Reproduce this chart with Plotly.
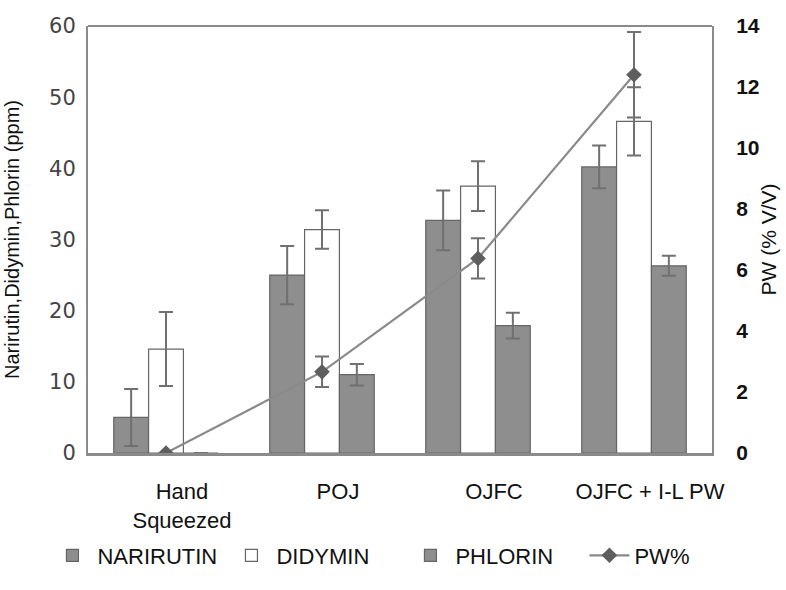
import plotly.graph_objects as go

# Juice samples
categories = ["Hand<br>Squeezed", "POJ", "OJFC", "OJFC + I-L PW"]

# Flavanone glycosides (ppm) with standard deviations
narirutin = [5.0, 25.0, 32.7, 40.2]
narirutin_sd = [4.0, 4.1, 4.2, 3.0]
didymin = [14.6, 31.4, 37.5, 46.6]
didymin_sd = [5.2, 2.7, 3.5, 4.8]
phlorin = [0.0, 11.0, 17.9, 26.3]
phlorin_sd = [0.0, 1.5, 1.8, 1.4]

# Pulp wash content (% V/V)
pw = [0.0, 2.66, 6.38, 12.4]
pw_sd = [0.0, 0.5, 0.66, 1.4]

bar_grey = "#8e8e8e"
edge_grey = "#666666"
err_grey = "#707070"
sans = "Liberation Sans, Arial"

fig = go.Figure()

def add_bar(name, vals, sd, fill):
    fig.add_trace(go.Bar(
        name=name, x=categories, y=vals,
        marker=dict(color=fill, line=dict(color=edge_grey, width=1.2)),
        error_y=dict(type="data", array=sd, visible=True,
                     color=err_grey, thickness=2, width=7),
    ))

add_bar("NARIRUTIN", narirutin, narirutin_sd, bar_grey)
add_bar("DIDYMIN", didymin, didymin_sd, "white")
add_bar("PHLORIN", phlorin, phlorin_sd, bar_grey)

fig.add_trace(go.Scatter(
    name="PW%", x=categories, y=pw, yaxis="y2",
    mode="lines+markers",
    line=dict(color="#8a8a8a", width=2.2),
    marker=dict(symbol="diamond", size=12, color="#5e5e5e"),
    error_y=dict(type="data", array=pw_sd, visible=True,
                 color=err_grey, thickness=2, width=7),
))

fig.update_layout(
    width=786, height=590,
    margin=dict(l=88, r=74, t=26, b=137),
    paper_bgcolor="white", plot_bgcolor="white",
    barmode="group", bargap=0.33, bargroupgap=0,
    font=dict(family=sans, color="#111"),
    showlegend=True,
    legend=dict(orientation="h", x=-0.065, xanchor="left",
                y=-0.24, yanchor="middle",
                bgcolor="rgba(0,0,0,0)",
                font=dict(size=22, family=sans, color="#111"),
                itemwidth=40, entrywidth=124, tracegroupgap=0),
    xaxis=dict(
        type="category", showgrid=False, ticks="", automargin=False,
        showline=True, linecolor="#8a8a8a", linewidth=2.5, mirror=False,
        tickfont=dict(size=22, family=sans, color="#111"),
        ticklabelshift=16, ticklabelstandoff=17,
    ),
    yaxis=dict(
        range=[0, 60], tickvals=[0, 10, 20, 30, 40, 50, 60],
        showgrid=False, zeroline=False, ticks="", automargin=False,
        showline=True, linecolor="#8a8a8a", linewidth=2, mirror=False,
        tickfont=dict(size=21, family="DejaVu Sans", color="#444"),
        ticklabelstandoff=6,
        title=dict(text="Narirutin,Didymin,Phlorin (ppm)",
                   font=dict(size=20, family=sans, color="#111"),
                   standoff=24),
    ),
    yaxis2=dict(
        range=[0, 14], tickvals=[0, 2, 4, 6, 8, 10, 12, 14],
        overlaying="y", side="right", showgrid=False, zeroline=False,
        ticks="", automargin=False,
        showline=True, linecolor="#8a8a8a", linewidth=2,
        tickfont=dict(size=21, family=sans, color="#111", weight="bold"),
        ticklabelstandoff=18,
        title=dict(text="PW (% V/V)",
                   font=dict(size=21, family=sans, color="#111"),
                   standoff=2),
    ),
)

# top border of the plotting frame
fig.add_shape(type="line", xref="paper", yref="paper", x0=0, x1=1, y0=1, y1=1,
              line=dict(color="#8a8a8a", width=2))

fig.write_html("out.html")
